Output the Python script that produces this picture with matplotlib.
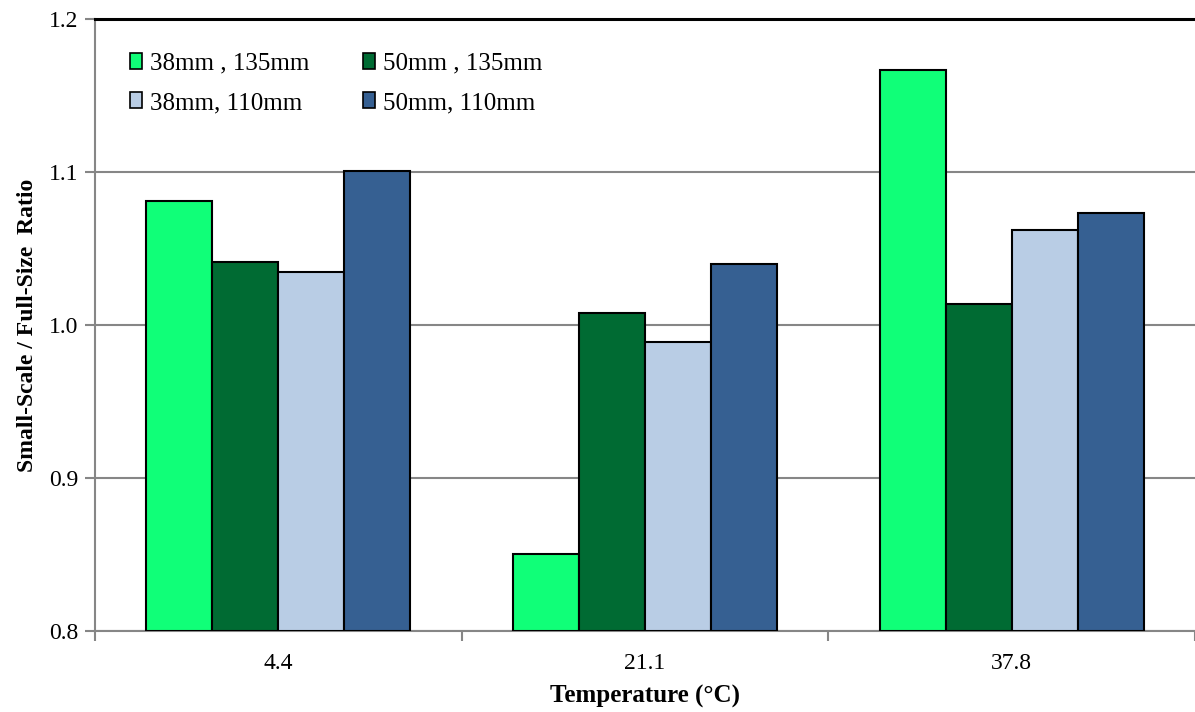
import matplotlib
matplotlib.use("Agg")
import matplotlib.pyplot as plt
import numpy as np

# Data
temperatures = ["4.4", "21.1", "37.8"]
series_labels = ["38mm , 135mm", "50mm , 135mm", "38mm, 110mm", "50mm, 110mm"]
ratio_38_135 = [1.081, 0.850, 1.167]
ratio_50_135 = [1.041, 1.008, 1.014]
ratio_38_110 = [1.035, 0.989, 1.062]
ratio_50_110 = [1.101, 1.040, 1.073]
y_ticks = [0.8, 0.9, 1.0, 1.1, 1.2]

series_values = [ratio_38_135, ratio_50_135, ratio_38_110, ratio_50_110]
colors = ["#10FF78", "#006B33", "#B9CDE5", "#366092"]

plt.rcParams["font.family"] = ["Liberation Serif", "DejaVu Serif"]

fig = plt.figure(figsize=(11.95, 7.12), dpi=100)
ax = fig.add_axes([0.0795, 0.114, 0.9205, 0.859])

base = 0.8
n = len(series_values)
bar_w = 0.18
x = np.arange(len(temperatures))
bars = []
for i, (vals, c) in enumerate(zip(series_values, colors)):
    offs = (i - (n - 1) / 2) * bar_w
    heights = [v - base for v in vals]
    b = ax.bar(x + offs, heights, bar_w, bottom=base, color=c,
               edgecolor="black", linewidth=1.5, zorder=3)
    bars.append(b)

ax.set_xlim(-0.5, len(temperatures) - 0.5)
ax.set_ylim(0.8, 1.2)
ax.set_yticks(y_ticks)
ax.set_yticklabels([f"{t:.1f}" for t in y_ticks])
ax.yaxis.grid(True, color="#868686", linewidth=1.5, zorder=0)
ax.set_axisbelow(True)

ax.set_xticks(x)
ax.set_xticklabels(temperatures)
ax.set_xticks(np.arange(len(temperatures) + 1) - 0.5, minor=True)
ax.tick_params(axis="x", which="major", length=0, labelsize=17, pad=16)
ax.tick_params(axis="x", which="minor", length=7, width=1.5, color="#868686")
ax.tick_params(axis="y", length=7, width=1.5, color="#868686", labelsize=17, pad=5)

for s in ["left", "bottom"]:
    ax.spines[s].set_color("#868686")
    ax.spines[s].set_linewidth(1.5)
ax.spines["right"].set_visible(False)
ax.spines["top"].set_color("black")
ax.spines["top"].set_linewidth(2.2)

ax.set_xlabel("Temperature (°C)", fontsize=18, fontweight="bold", labelpad=8)
ax.set_ylabel("Small-Scale / Full-Size  Ratio", fontsize=17, fontweight="bold", labelpad=8)

order = [0, 2, 1, 3]
leg = ax.legend([bars[i] for i in order], [series_labels[i] for i in order],
                ncol=2, loc="upper left", bbox_to_anchor=(0.011, 0.982),
                frameon=False, fontsize=18, handlelength=0.5, handleheight=0.6,
                handletextpad=0.3, columnspacing=2.15, labelspacing=0.7)
for h in leg.legend_handles:
    h.set_linewidth(1.2)

fig.savefig("out.png", dpi=100)
